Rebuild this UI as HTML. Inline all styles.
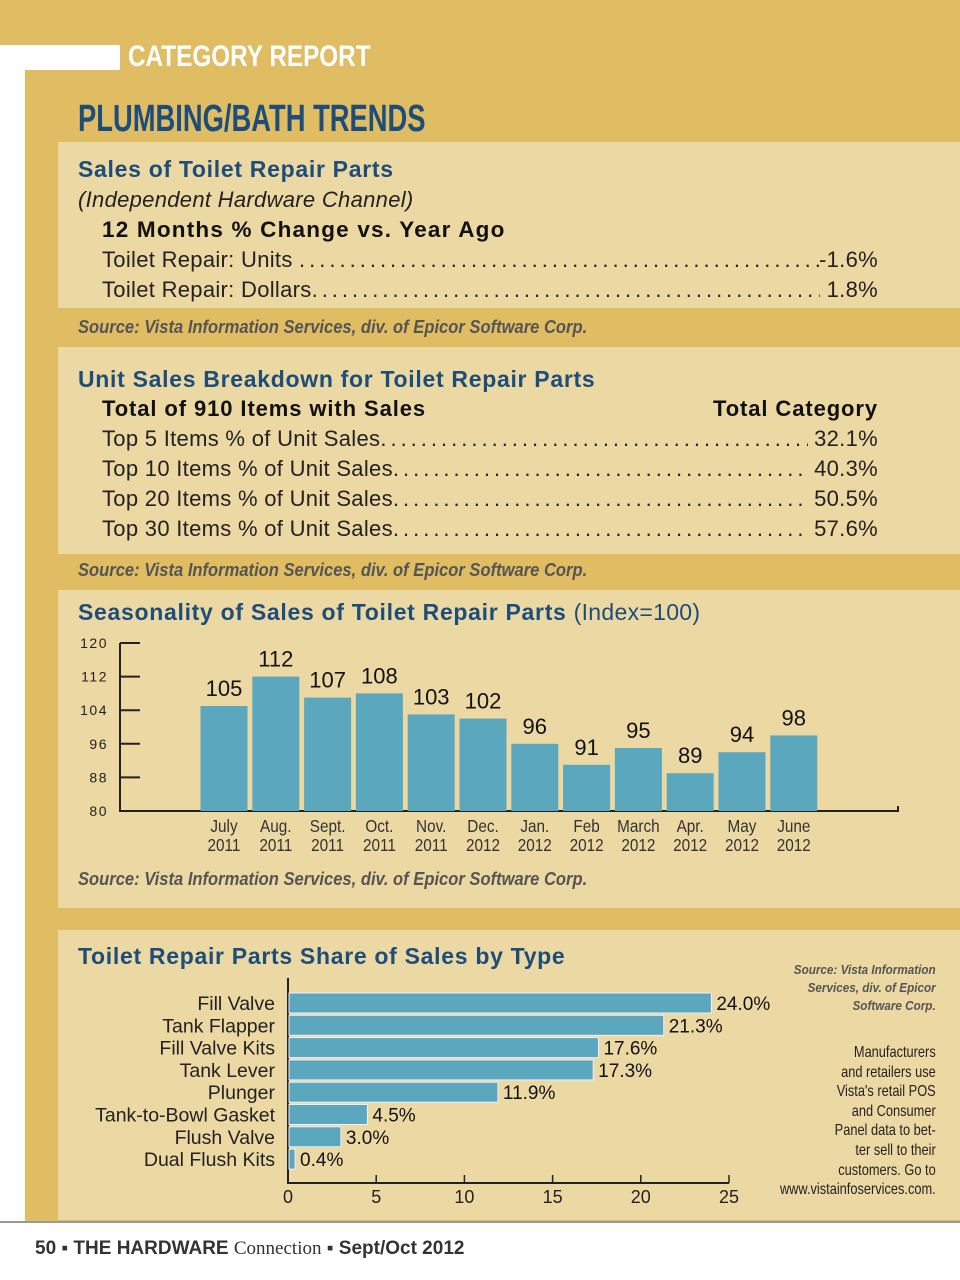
<!DOCTYPE html>
<html><head><meta charset="utf-8">
<style>
body{margin:0;width:960px;height:1280px;position:relative;background:#fff;font-family:"Liberation Sans",sans-serif;overflow:hidden}
.abs{position:absolute}
.cond{font-family:"Liberation Sans Narrow","Liberation Sans",sans-serif}
.row{position:absolute;left:102px;width:776px;font-size:22px;color:#222;display:flex;white-space:nowrap;letter-spacing:0.3px}
.row .d{flex:1;overflow:hidden;letter-spacing:4px}
.h{font-size:23px;font-weight:bold;color:#1d4d7a;letter-spacing:0.7px}
.src{position:absolute;left:78px;font-style:italic;font-weight:bold;font-size:18px;color:#555;transform:scaleX(0.92);transform-origin:left}
</style></head><body>
<div class="abs" style="left:25px;top:0;width:935px;height:1222px;background:#e0bc62"></div>
<div class="abs" style="left:0;top:0;width:25px;height:45px;background:#e0bc62"></div>
<div class="abs" style="left:0;top:45px;width:120px;height:25px;background:#fff"></div>
<div class="abs cond" style="left:128px;top:40px;font-size:30px;font-weight:bold;color:#fff;transform:scaleX(0.81);transform-origin:left">CATEGORY REPORT</div>
<div class="abs cond" style="left:78px;top:98px;font-size:38px;font-weight:bold;color:#1d4d7a;transform:scaleX(0.72);transform-origin:left">PLUMBING/BATH TRENDS</div>

<div class="abs" style="left:58px;top:142px;width:902px;height:166px;background:#ecd8a2"></div>
<div class="abs h" style="left:78px;top:156px">Sales of Toilet Repair Parts</div>
<div class="abs" style="left:78px;top:187px;font-size:22px;font-style:italic;color:#222;letter-spacing:0.3px">(Independent Hardware Channel)</div>
<div class="abs" style="left:102px;top:217px;font-size:22.5px;font-weight:bold;color:#111;letter-spacing:1.2px">12 Months % Change vs. Year Ago</div>
<div class="row" style="top:247px"><span>Toilet Repair: Units&nbsp;</span><span class="d">.................................................................................</span><span>-1.6%</span></div>
<div class="row" style="top:277px"><span>Toilet Repair: Dollars</span><span class="d">.................................................................................</span><span>&nbsp;1.8%</span></div>
<div class="src" style="top:317px">Source: Vista Information Services, div. of Epicor Software Corp.</div>

<div class="abs" style="left:58px;top:347px;width:902px;height:207px;background:#ecd8a2"></div>
<div class="abs h" style="left:78px;top:366px">Unit Sales Breakdown for Toilet Repair Parts</div>
<div class="row" style="top:396px;font-weight:bold;color:#111;letter-spacing:0.9px"><span>Total of 910 Items with Sales</span><span style="flex:1"></span><span>Total Category</span></div>
<div class="row" style="top:426px"><span>Top 5 Items % of Unit Sales</span><span class="d">.................................................................................</span><span>&nbsp;32.1%</span></div>
<div class="row" style="top:456px"><span>Top 10 Items % of Unit Sales</span><span class="d">.................................................................................</span><span>&nbsp;40.3%</span></div>
<div class="row" style="top:486px"><span>Top 20 Items % of Unit Sales</span><span class="d">.................................................................................</span><span>&nbsp;50.5%</span></div>
<div class="row" style="top:516px"><span>Top 30 Items % of Unit Sales</span><span class="d">.................................................................................</span><span>&nbsp;57.6%</span></div>
<div class="src" style="top:560px">Source: Vista Information Services, div. of Epicor Software Corp.</div>

<div class="abs" style="left:58px;top:590px;width:902px;height:318px;background:#ecd8a2"></div>
<div class="abs h" style="left:78px;top:599px">Seasonality of Sales of Toilet Repair Parts <span style="font-weight:normal;letter-spacing:0.3px">(Index=100)</span></div>
<svg class="abs" style="left:0;top:0" width="960" height="1280" id="svg1"></svg>
<div class="src" style="top:869px">Source: Vista Information Services, div. of Epicor Software Corp.</div>

<div class="abs" style="left:58px;top:930px;width:902px;height:290px;background:#ecd8a2"></div>
<div class="abs h" style="left:78px;top:943px">Toilet Repair Parts Share of Sales by Type</div>
<div class="abs" style="right:24px;top:961px;text-align:right;font-size:13px;font-style:italic;font-weight:bold;color:#555;line-height:18px;white-space:nowrap;transform:scaleX(0.9);transform-origin:right">Source: Vista Information<br>Services, div. of Epicor<br>Software Corp.</div>
<div class="abs" style="right:24px;top:1043px;text-align:right;font-size:16px;color:#222;line-height:19.6px;white-space:nowrap;transform:scaleX(0.8);transform-origin:right">Manufacturers<br>and retailers use<br>Vista's retail POS<br>and Consumer<br>Panel data to bet-<br>ter sell to their<br>customers. Go to<br>www.vistainfoservices.com.</div>
<svg class="abs" style="left:0;top:0" width="960" height="1280" id="svg2"></svg>

<div class="abs" style="left:0;top:1221px;width:960px;height:2px;background:#999"></div>
<div class="abs" style="left:35px;top:1238px;font-size:19px;color:#333"><b>50 ▪ THE HARDWARE</b> <span style="font-family:'Liberation Serif',serif">Connection</span> <b>▪ Sept/Oct 2012</b></div>

<script>
const months = ["July","Aug.","Sept.","Oct.","Nov.","Dec.","Jan.","Feb","March","Apr.","May","June"];
const years = ["2011","2011","2011","2011","2011","2012","2012","2012","2012","2012","2012","2012"];
const indexValues = [105,112,107,108,103,102,96,91,95,89,94,98];
const yTicks = [80,88,96,104,112,120];
const types = ["Fill Valve","Tank Flapper","Fill Valve Kits","Tank Lever","Plunger","Tank-to-Bowl Gasket","Flush Valve","Dual Flush Kits"];
const shares = [24.0,21.3,17.6,17.3,11.9,4.5,3.0,0.4];
const xTicks = [0,5,10,15,20,25];

const NS="http://www.w3.org/2000/svg";
function mk(svg,tag,attrs,text){const e=document.createElementNS(NS,tag);for(const k in attrs)e.setAttribute(k,attrs[k]);if(text!==undefined)e.textContent=text;svg.appendChild(e);return e;}
const s1=document.getElementById('svg1');
const y1=v=>811-(v-80)*(168/40);
const x1=i=>224+i*51.8;
let ax=mk(s1,'path',{d:'M120 643V811H898V806',stroke:'#222','stroke-width':2,fill:'none'});


yTicks.forEach(t=>{
 let l=mk(s1,'line',{x1:120,x2:140,y1:y1(t),y2:y1(t),stroke:'#222','stroke-width':2});
 
 
 let tx=mk(s1,'text',{x:108,y:y1(t)+5,'text-anchor':'end','font-size':14,'letter-spacing':1.5,fill:'#222','font-family':'Liberation Sans'},t);
 
 
});
indexValues.forEach((v,i)=>{
 let r=mk(s1,'rect',{x:x1(i)-23.5,y:y1(v),width:47,height:811-y1(v),fill:'#5ba7bd'});
 
 
 let t=mk(s1,'text',{x:x1(i),y:y1(v)-10,'text-anchor':'middle','font-size':22,fill:'#111','font-family':'Liberation Sans'},v);
 
 
 let m=mk(s1,'text',{x:x1(i),y:832,'text-anchor':'middle','font-size':18,fill:'#333','font-family':'Liberation Sans',transform:`translate(${x1(i)},0) scale(0.85,1) translate(${-x1(i)},0)`},months[i]);
 
 
 let yr=mk(s1,'text',{x:x1(i),y:851,'text-anchor':'middle','font-size':18,fill:'#333','font-family':'Liberation Sans',transform:`translate(${x1(i)},0) scale(0.85,1) translate(${-x1(i)},0)`},years[i]);
 
 
});

const s2=document.getElementById('svg2');
const x2=v=>288+v*(441/25);
const yb=i=>1003+i*22.3;
let ax2=mk(s2,'path',{d:'M288 978V1183H729',stroke:'#222','stroke-width':2,fill:'none'});


xTicks.forEach(t=>{
 let l=mk(s2,'line',{x1:x2(t),x2:x2(t),y1:1175,y2:1183,stroke:'#222','stroke-width':1.5});
 
 
 let tx=mk(s2,'text',{x:x2(t),y:1203,'text-anchor':'middle','font-size':18,fill:'#222','font-family':'Liberation Sans'},t);
 
 
});
shares.forEach((v,i)=>{
 let r=mk(s2,'rect',{x:289,y:yb(i)-10,width:x2(v)-289,height:20,fill:'#5ba7bd',stroke:'#eef','stroke-width':1});
 
 
 let t=mk(s2,'text',{x:x2(v)+5,y:yb(i)+7,'font-size':19,fill:'#111','font-family':'Liberation Sans'},v.toFixed(1)+'%');
 
 
 let c=mk(s2,'text',{x:275,y:yb(i)+7,'text-anchor':'end','font-size':19.5,fill:'#222','font-family':'Liberation Sans'},types[i]);
 
 
});
</script>
</body></html>
